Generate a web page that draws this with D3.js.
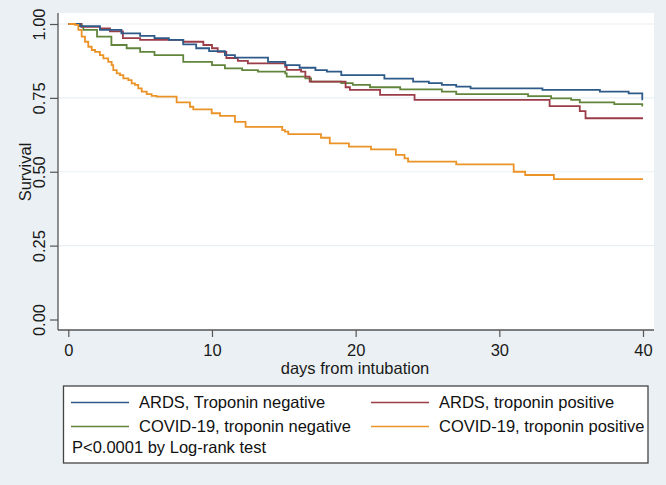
<!DOCTYPE html>
<html>
<head>
<meta charset="utf-8">
<script src="https://cdn.jsdelivr.net/npm/d3@7"></script>
<style>
  html, body { margin: 0; padding: 0; background: #eaf0f3; }
  svg { display: block; font-family: "Liberation Sans", Arial, sans-serif; }
</style>
</head>
<body>
<svg id="chart" width="666" height="485"></svg>
<script>
// ---- Data ----
const seriesNames = [
  "ARDS, Troponin negative",
  "ARDS, troponin positive",
  "COVID-19, troponin negative",
  "COVID-19, troponin positive"
];
const seriesColors = ["#2d5a88", "#9b3d48", "#62853c", "#eb9326"];

const ardsNegDays = [0, 0.8, 2.2, 3.7, 5.0, 6.0, 7.0, 8.0, 8.9, 9.8, 10.9, 11.6, 13.9, 15.1, 16.1, 17.2, 18.0, 19.0, 22.0, 24.0, 25.1, 26.0, 27.0, 28.0, 33.0, 37.0, 39.0, 39.95, 40];
const ardsNegSurv = [1.0, 0.993, 0.98, 0.968, 0.96, 0.952, 0.946, 0.931, 0.918, 0.908, 0.895, 0.886, 0.872, 0.861, 0.852, 0.844, 0.839, 0.827, 0.815, 0.805, 0.80, 0.794, 0.788, 0.782, 0.777, 0.771, 0.765, 0.745, 0.745];

const ardsPosDays = [0, 0.9, 2.2, 2.9, 3.8, 5.0, 8.0, 9.4, 10.0, 10.4, 11.0, 11.8, 12.5, 15.1, 15.2, 16.2, 16.5, 16.8, 19.3, 19.6, 21.7, 24.1, 33.5, 35.6, 36.0, 40];
const ardsPosSurv = [1.0, 0.99, 0.985, 0.975, 0.952, 0.946, 0.94, 0.929, 0.918, 0.906, 0.885, 0.875, 0.867, 0.855, 0.845, 0.839, 0.822, 0.805, 0.786, 0.777, 0.76, 0.743, 0.722, 0.705, 0.681, 0.681];

const covidNegDays = [0, 0.93, 1.05, 2.0, 3.0, 4.06, 5.0, 6.0, 8.0, 10.0, 10.9, 12.1, 13.2, 15.1, 15.2, 16.5, 16.9, 19.0, 19.8, 21.0, 23.1, 26.0, 27.0, 32.0, 33.6, 35.0, 35.6, 38.0, 39.95, 40];
const covidNegSurv = [1.0, 0.991, 0.98, 0.957, 0.929, 0.918, 0.906, 0.895, 0.872, 0.861, 0.85, 0.844, 0.839, 0.833, 0.822, 0.816, 0.805, 0.80, 0.794, 0.786, 0.779, 0.771, 0.763, 0.756, 0.748, 0.743, 0.735, 0.729, 0.724, 0.724];

const covidPosDays = [0, 0.47, 0.70, 0.93, 1.16, 1.39, 1.63, 1.86, 2.2, 2.44, 2.78, 3.02, 3.13, 3.37, 3.6, 3.83, 4.18, 4.41, 4.64, 4.87, 5.11, 5.46, 5.8, 6.15, 7.54, 8.47, 8.7, 9.98, 10.56, 11.6, 12.34, 14.89, 15.08, 15.31, 17.59, 18.2, 19.53, 21.07, 22.8, 23.4, 23.65, 27.0, 31.0, 31.8, 33.8, 40];
const covidPosSurv = [1.0, 0.997, 0.98, 0.957, 0.94, 0.923, 0.912, 0.906, 0.895, 0.884, 0.872, 0.861, 0.844, 0.833, 0.827, 0.816, 0.81, 0.799, 0.794, 0.782, 0.771, 0.763, 0.757, 0.754, 0.735, 0.72, 0.711, 0.698, 0.689, 0.669, 0.652, 0.641, 0.636, 0.627, 0.615, 0.596, 0.585, 0.576, 0.557, 0.545, 0.534, 0.525, 0.50, 0.489, 0.475, 0.475];

const xTicks = [0, 10, 20, 30, 40];
const yTicks = [0, 0.25, 0.5, 0.75, 1.0];
const xTitle = "days from intubation";
const yTitle = "Survival";
const pNote = "P<0.0001 by Log-rank test";

// ---- Build ----
const svg = d3.select("#chart");
const FONT = 16.5;

const plotL = 58, plotR = 654, plotT = 13, plotB = 330;
const x = d3.scaleLinear().domain([0, 40]).range([68.3, 643]);
const y = d3.scaleLinear().domain([0, 1]).range([319.5, 24]);

// background
svg.append("rect").attr("width", 666).attr("height", 485).attr("fill", "#eaf0f3");
svg.append("rect").attr("x", plotL).attr("y", plotT)
  .attr("width", plotR - plotL).attr("height", plotB - plotT).attr("fill", "#ffffff");

// gridlines
svg.append("g").selectAll("line").data(yTicks.filter(d => d > 0)).join("line")
  .attr("x1", plotL).attr("x2", plotR)
  .attr("y1", d => y(d)).attr("y2", d => y(d))
  .attr("stroke", "#e8eff3").attr("stroke-width", 1.2);

// curves
const series = [
  { days: ardsNegDays, surv: ardsNegSurv },
  { days: ardsPosDays, surv: ardsPosSurv },
  { days: covidNegDays, surv: covidNegSurv },
  { days: covidPosDays, surv: covidPosSurv }
];
const line = d3.line().curve(d3.curveStepAfter)
  .x(d => x(d[0])).y(d => y(d[1]));
const drawOrder = [2, 1, 0, 3];
drawOrder.forEach(i => {
  const s = series[i];
  const pts = s.days.map((d, k) => [d, s.surv[k]]);
  svg.append("path").attr("d", line(pts))
    .attr("fill", "none").attr("stroke", seriesColors[i])
    .attr("stroke-width", 1.8).attr("stroke-linejoin", "miter");
});

// y axis
const yAxis = svg.append("g").attr("transform", `translate(${plotL},0)`)
  .call(d3.axisLeft(y).tickValues(yTicks).tickFormat(d3.format(".2f")).tickSize(8));
yAxis.select(".domain").remove();
yAxis.selectAll(".tick line").attr("stroke", "#555").attr("stroke-width", 1.2);
yAxis.selectAll(".tick text")
  .attr("transform", "rotate(-90)")
  .attr("x", 0).attr("y", -19).attr("dy", "0.35em")
  .attr("text-anchor", "middle")
  .attr("fill", "#1a1a1a").style("font-size", FONT + "px")
  .style("font-family", "'Liberation Sans', Arial, sans-serif");
svg.append("line").attr("x1", plotL).attr("x2", plotL).attr("y1", plotT).attr("y2", plotB)
  .attr("stroke", "#555").attr("stroke-width", 1.3);

// x axis
const xAxis = svg.append("g").attr("transform", `translate(0,${plotB})`)
  .call(d3.axisBottom(x).tickValues(xTicks).tickFormat(d3.format("d")).tickSize(7));
xAxis.select(".domain").remove();
xAxis.selectAll(".tick line").attr("stroke", "#555").attr("stroke-width", 1.2);
xAxis.selectAll(".tick text")
  .attr("y", 20).attr("dy", "0.35em")
  .attr("fill", "#1a1a1a").style("font-size", FONT + "px")
  .style("font-family", "'Liberation Sans', Arial, sans-serif");
svg.append("line").attr("x1", plotL).attr("x2", plotR).attr("y1", plotB).attr("y2", plotB)
  .attr("stroke", "#555").attr("stroke-width", 1.3);

// axis titles
svg.append("text").attr("x", 355).attr("y", 368.5).attr("dy", "0.35em")
  .attr("text-anchor", "middle").attr("fill", "#1a1a1a")
  .style("font-size", FONT + "px").text(xTitle);
svg.append("text").attr("transform", "translate(25,172) rotate(-90)")
  .attr("dy", "0.35em").attr("text-anchor", "middle").attr("fill", "#1a1a1a")
  .style("font-size", FONT + "px").text(yTitle);

// legend
const lg = svg.append("g");
lg.append("rect").attr("x", 63.5).attr("y", 386).attr("width", 584.5).attr("height", 77)
  .attr("fill", "#ffffff").attr("stroke", "#444").attr("stroke-width", 1.3);
const legendPos = [
  { lx: 71, ty: 402.5 }, { lx: 371, ty: 402.5 },
  { lx: 71, ty: 426.5 }, { lx: 371, ty: 426.5 }
];
seriesNames.forEach((name, i) => {
  const p = legendPos[i];
  lg.append("line").attr("x1", p.lx).attr("x2", p.lx + 58)
    .attr("y1", p.ty).attr("y2", p.ty)
    .attr("stroke", seriesColors[i]).attr("stroke-width", 1.4);
  lg.append("text").attr("x", p.lx + 68).attr("y", p.ty).attr("dy", "0.35em")
    .attr("fill", "#111").style("font-size", FONT + "px").text(name);
});
lg.append("text").attr("x", 72).attr("y", 447).attr("dy", "0.35em")
  .attr("fill", "#111").style("font-size", FONT + "px").text(pNote);
</script>
</body>
</html>
